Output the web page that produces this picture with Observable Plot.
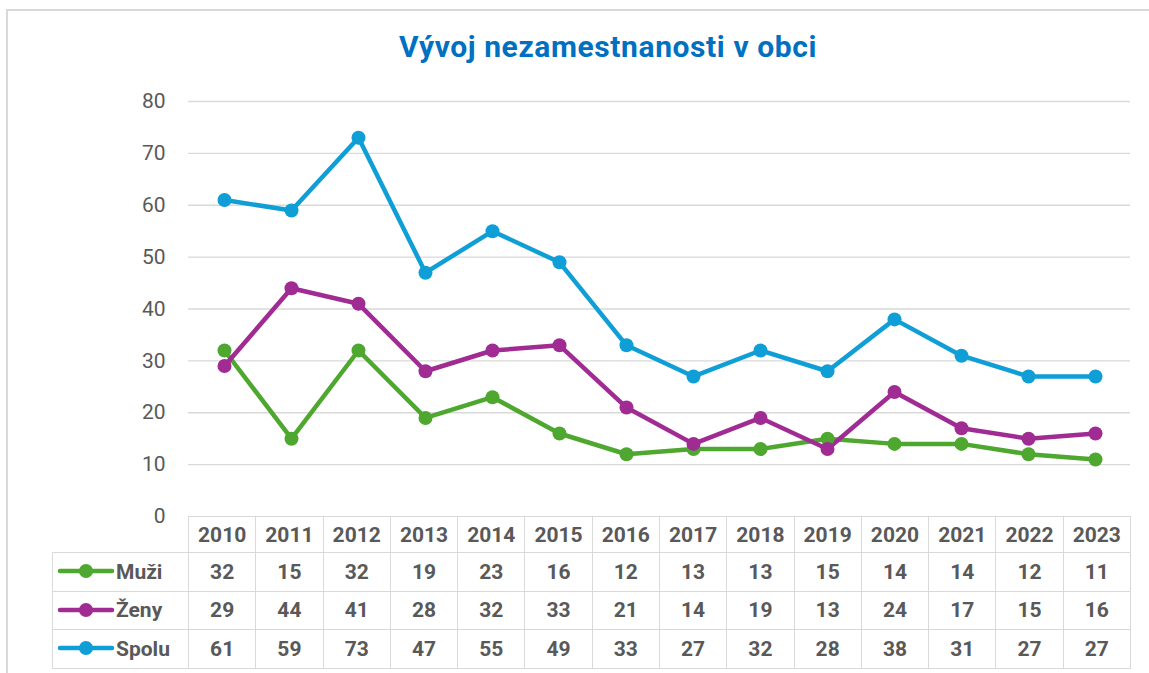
<!DOCTYPE html>
<html>
<head>
<meta charset="utf-8">
<script src="https://cdn.jsdelivr.net/npm/d3@7"></script>
<script src="https://cdn.jsdelivr.net/npm/@observablehq/plot@0.6"></script>
<style>
  html, body { margin: 0; padding: 0; background: #fff; width: 1149px; height: 673px; overflow: hidden; font-family: Roboto, "Noto Sans", sans-serif; }
  #frame { position: absolute; left: 6px; top: 9px; width: 1200px; height: 700px; border: 2px solid #d9d9d9; box-sizing: border-box; }
  #title { position: absolute; left: 0; top: 32px; width: 1216px; text-align: center; font-size: 30px; line-height: 30px; font-weight: bold; color: #0070C0; letter-spacing: 0.6px; }
  #chart { position: absolute; left: 0; top: 0; }
  #tbl { position: absolute; left: 52px; top: 516px; border-collapse: collapse; table-layout: fixed; }
  #tbl td { border: 1.5px solid #d9d9d9; padding: 0; text-align: center; font-weight: bold; font-size: 21px; color: #595959; }
  #tbl td.empty { border: none; border-bottom: 1.5px solid #d9d9d9; }
  #tbl td.lab { text-align: left; white-space: nowrap; }
  #tbl td.lab svg { vertical-align: middle; margin-left: 4px; margin-right: 1px; position: relative; top: -2px; }
</style>
</head>
<body>
<div id="frame"></div>
<div id="title">Vývoj nezamestnanosti v obci</div>
<div id="chart"></div>
<table id="tbl"></table>
<script>
const years = ["2010","2011","2012","2013","2014","2015","2016","2017","2018","2019","2020","2021","2022","2023"];
const muzi  = [32, 15, 32, 19, 23, 16, 12, 13, 13, 15, 14, 14, 12, 11];
const zeny  = [29, 44, 41, 28, 32, 33, 21, 14, 19, 13, 24, 17, 15, 16];
const spolu = [61, 59, 73, 47, 55, 49, 33, 27, 32, 28, 38, 31, 27, 27];
const seriesNames = ["Muži", "Ženy", "Spolu"];
const seriesColors = ["#4EA72E", "#A02B93", "#0F9ED5"];
const yTicks = [0, 10, 20, 30, 40, 50, 60, 70, 80];

const seriesValues = [muzi, zeny, spolu];
const data = [];
seriesNames.forEach((s, i) => years.forEach((yr, j) => data.push({series: s, year: yr, value: seriesValues[i][j]})));

const chart = Plot.plot({
  width: 1149,
  height: 540,
  marginTop: 101,
  marginBottom: 24,
  marginLeft: 188,
  marginRight: 19,
  style: { fontFamily: "Roboto, sans-serif", fontSize: "21px", color: "#595959", background: "transparent" },
  x: { type: "point", domain: years, padding: 0.5, axis: null },
  y: { domain: [0, 80], ticks: yTicks, tickSize: 0, tickPadding: 23, label: null, grid: false },
  color: { domain: seriesNames, range: seriesColors },
  marks: [
    Plot.ruleY(yTicks.filter(d => d > 0), { stroke: "#d9d9d9", strokeWidth: 1.4, strokeOpacity: 1 }),
    Plot.axisY({ ticks: yTicks, tickSize: 0, tickPadding: 23, label: null, fill: "#595959" }),
    ...seriesNames.map(s => Plot.line(data.filter(d => d.series === s), { x: "year", y: "value", stroke: "series", strokeWidth: 4.5, strokeLinejoin: "round", strokeLinecap: "round" })),
    ...seriesNames.map(s => Plot.dot(data.filter(d => d.series === s), { x: "year", y: "value", fill: "series", r: 7, stroke: "none" }))
  ]
});
document.getElementById("chart").appendChild(chart);

// data table
const tbl = document.getElementById("tbl");
const colW = 942 / years.length;
let cg = '<colgroup><col style="width:136px">' + years.map(() => `<col style="width:${colW}px">`).join("") + '</colgroup>';
let html = cg + '<tr style="height:36px"><td class="empty"></td>' + years.map(y => `<td>${y}</td>`).join("") + '</tr>';
seriesNames.forEach((s, i) => {
  const c = seriesColors[i];
  const sw = `<svg width="58" height="16"><line x1="3" y1="8" x2="55" y2="8" stroke="${c}" stroke-width="4.5" stroke-linecap="round"/><circle cx="29" cy="8" r="7" fill="${c}"/></svg>`;
  html += `<tr style="height:38.5px"><td class="lab">${sw}${s}</td>` + seriesValues[i].map(v => `<td>${v}</td>`).join("") + '</tr>';
});
tbl.innerHTML = html;
</script>
</body>
</html>
